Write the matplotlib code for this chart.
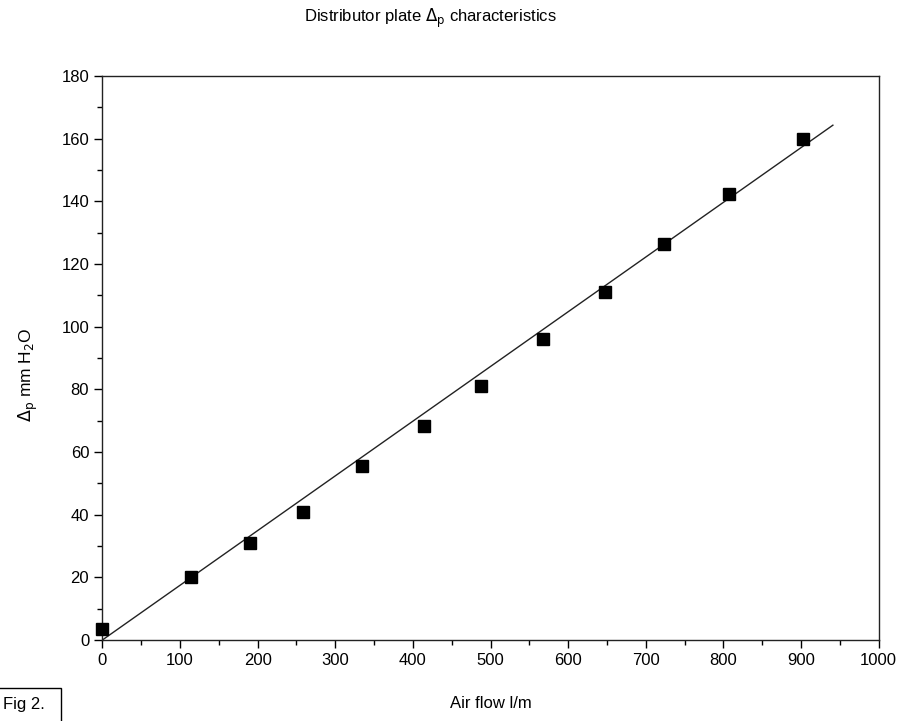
#!/usr/bin/env python3
"""Distributor plate pressure drop vs air flow (Fig 2)."""

import matplotlib
matplotlib.use("Agg")
import matplotlib.pyplot as plt
from matplotlib.patches import Rectangle
from matplotlib.ticker import MultipleLocator

# measured points
air_flow = [0, 114, 190, 259, 335, 414, 488, 568, 648, 724, 807, 903]
delta_p = [3.4, 20.0, 31.0, 40.8, 55.4, 68.3, 81.0, 96.0, 111.1, 126.4, 142.2, 159.8]

# fitted line end points
fit_x = [0, 941]
fit_y = [0, 164.3]

plt.rcParams["font.family"] = ["Liberation Sans", "DejaVu Sans"]

fig = plt.figure(figsize=(9.04, 7.21), dpi=100)
ax = fig.add_axes([0.1132, 0.1123, 0.8588, 0.7823])

ax.plot(fit_x, fit_y, color="#222222", lw=1.0, zorder=2)
ax.plot(air_flow, delta_p, "s", color="black", ms=9, zorder=3, clip_on=False)

ax.set_xlim(0, 1000)
ax.set_ylim(0, 180)
ax.xaxis.set_major_locator(MultipleLocator(100))
ax.xaxis.set_minor_locator(MultipleLocator(50))
ax.yaxis.set_major_locator(MultipleLocator(20))
ax.yaxis.set_minor_locator(MultipleLocator(10))
ax.tick_params(which="major", direction="out", length=5.5, width=1, labelsize=12, pad=4)
ax.tick_params(which="minor", direction="out", length=3.5, width=1)
for s in ax.spines.values():
    s.set_linewidth(1.0)
    s.set_color("#222222")

ax.set_xlabel("Air flow l/m", fontsize=12, labelpad=20)
ax.set_ylabel(r"$\Delta_{\rm p}$ mm H$_2$O", fontsize=12.5)
ax.yaxis.set_label_coords(-0.080, 0.47)
fig.text(0.476, 0.974, r"Distributor plate $\Delta_{\rm p}$ characteristics",
         ha="center", va="center", fontsize=12)

# "Fig 2." tag in the lower left corner
fig.patches.append(Rectangle((-0.01, -0.01), 0.0775, 0.0558, transform=fig.transFigure,
                             fill=False, edgecolor="black", lw=1.0))
fig.text(0.003, 0.012, "Fig 2.", ha="left", va="bottom", fontsize=12)

fig.savefig("out.png", dpi=100)
